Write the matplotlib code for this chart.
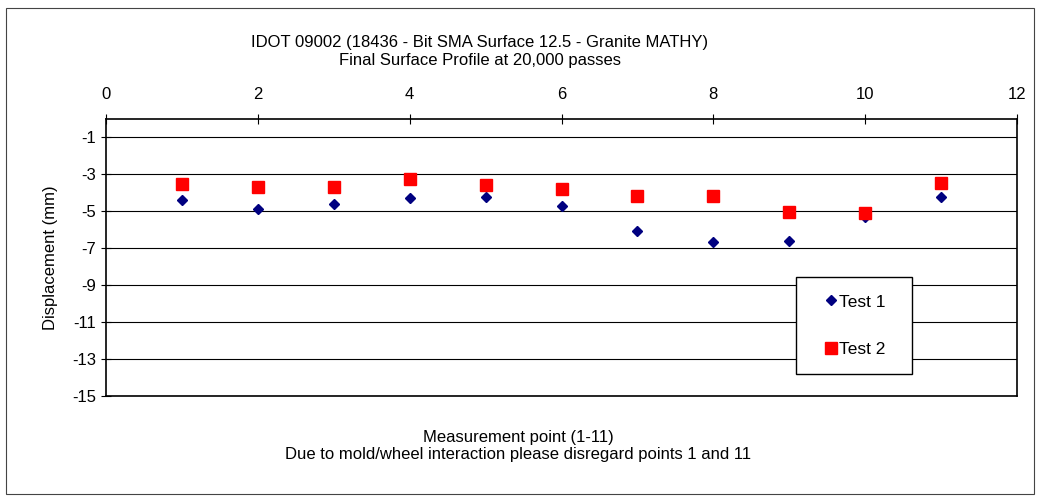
import matplotlib.pyplot as plt
from matplotlib.patches import Rectangle
from matplotlib.ticker import MultipleLocator

plt.rcParams['font.family'] = ['Liberation Sans', 'DejaVu Sans']
plt.rcParams['axes.unicode_minus'] = False

points = [1, 2, 3, 4, 5, 6, 7, 8, 9, 10, 11]
test1 = [-4.37, -4.86, -4.60, -4.26, -4.22, -4.73, -6.06, -6.68, -6.62, -5.30, -4.24]
test2 = [-3.50, -3.70, -3.67, -3.25, -3.58, -3.81, -4.17, -4.19, -5.05, -5.07, -3.47]

title_lines = ["IDOT 09002 (18436 - Bit SMA Surface 12.5 - Granite MATHY)",
               "Final Surface Profile at 20,000 passes"]
xlabel_lines = ["Measurement point (1-11)",
                "Due to mold/wheel interaction please disregard points 1 and 11"]
ylabel = "Displacement (mm)"

fig = plt.figure(figsize=(10.43, 5.0), dpi=100)
ax = fig.add_axes([106 / 1043, 1 - 396 / 500, (1017 - 106) / 1043, (396 - 119) / 500])

# outer chart border
fig.patches.append(Rectangle((6 / 1043, 6 / 500), 1028 / 1043, 486 / 500,
                             transform=fig.transFigure, fill=False,
                             edgecolor='#444444', linewidth=0.8))

ax.plot(points, test1, linestyle='none', marker='D', markersize=5,
        color='#000080', label='Test 1  ')
ax.plot(points, test2, linestyle='none', marker='s', markersize=8,
        color='#FF0000', label='Test 2  ')

ax.set_xlim(0, 12)
ax.set_ylim(-15, 0)
ax.xaxis.set_major_locator(MultipleLocator(2))
ax.set_yticks([-1, -3, -5, -7, -9, -11, -13, -15])
ax.xaxis.tick_top()
ax.tick_params(axis='both', direction='inout', length=7, width=0.8,
               labelsize=12, colors='black')
ax.tick_params(axis='x', pad=9)
ax.grid(axis='y', color='black', linewidth=0.8)
ax.set_axisbelow(True)
for s in ax.spines.values():
    s.set_linewidth(1.2)

ax.set_ylabel(ylabel, fontsize=12, labelpad=10)

for i, line in enumerate(title_lines):
    fig.text(480 / 1043, 1 - (47 + 18 * i) / 500, line, ha='center', va='baseline',
             fontsize=12)
for i, line in enumerate(xlabel_lines):
    fig.text(518 / 1043, 1 - (442 + 17 * i) / 500, line, ha='center', va='baseline',
             fontsize=12)

leg = ax.legend(loc='upper left', bbox_to_anchor=((796 - 106) / 911, 1 - (277 - 119) / 277),
                frameon=True, fancybox=False, edgecolor='black', fontsize=12.5,
                handlelength=2.0, handletextpad=-0.55, labelspacing=1.85,
                borderpad=1.0, borderaxespad=0)
leg.get_frame().set_linewidth(1.0)
leg.get_frame().set_alpha(1)

fig.savefig('out.png', dpi=100)
